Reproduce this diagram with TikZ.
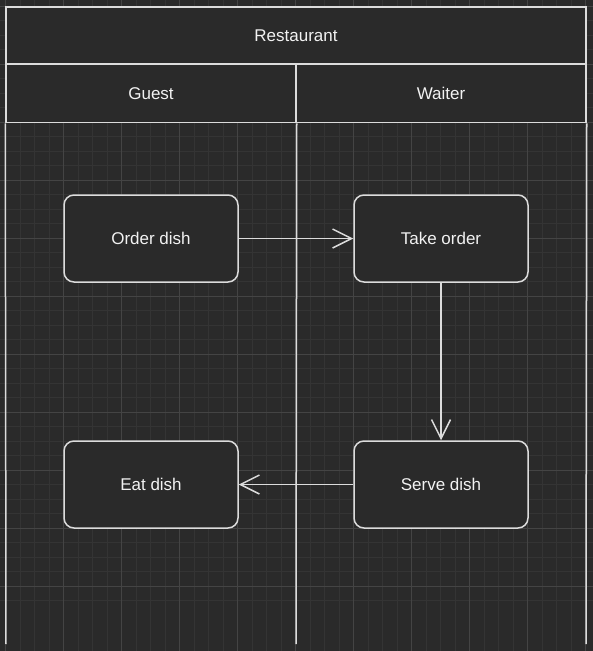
\documentclass[tikz,border=0pt]{standalone}
\usepackage{fontspec}
\setmainfont{Liberation Sans}
\usetikzlibrary{arrows.meta}
\definecolor{bgdark}{HTML}{2A2A2A}
\definecolor{gridminor}{HTML}{343434}
\definecolor{gridmajor}{HTML}{444444}
\definecolor{strokelight}{HTML}{DCDCDC}
\definecolor{textlight}{HTML}{F2F2F2}
\tikzset{
  lanehead/.style={draw=strokelight,fill=bgdark,line width=1.5pt,text=textlight,font=\fontsize{17}{20}\selectfont},
  stepbox/.style={draw=strokelight,fill=bgdark,line width=1.5pt,rounded corners=10pt,minimum width=174pt,minimum height=87pt,inner sep=0pt,text=textlight,font=\fontsize{17}{20}\selectfont},
  flow/.style={draw=strokelight,line width=1.5pt,-{Straight Barb[length=19pt,width=19pt,line width=1.5pt]}}
}
\begin{document}
\begin{tikzpicture}[x=1pt,y=-1pt]
	\fill[bgdark](0,0) rectangle (593,651);
	\useasboundingbox (0,0) rectangle (593,651);
	% grid
	\foreach \i in {0,...,41}{
		\draw[gridminor,line width=0.8pt](5.5+14.5*\i,0)--(5.5+14.5*\i,651);
		\draw[gridminor,line width=0.8pt](0,6+14.5*\i)--(593,6+14.5*\i);
	}
	\foreach \i in {0,...,10}{
		\draw[gridmajor,line width=0.8pt](5.5+58*\i,0)--(5.5+58*\i,651);
		\draw[gridmajor,line width=0.8pt](0,6+58*\i)--(593,6+58*\i);
	}
	% pool and lanes
	\node[lanehead,minimum width=580pt,minimum height=57pt,inner sep=0pt](pool) at (296,35.5){Restaurant};
	\node[lanehead,minimum width=290pt,minimum height=58pt,inner sep=0pt](guest) at (151,93.5){Guest};
	\node[lanehead,minimum width=290pt,minimum height=58pt,inner sep=0pt](waiter) at (441,93.5){Waiter};
	\draw[strokelight,line width=1.5pt](guest.south west)--(6,644);
	\draw[strokelight,line width=1.5pt](guest.south east)--(296,644);
	\draw[strokelight,line width=1.5pt](waiter.south east)--(586,644);
	% steps
	\node[stepbox](order) at (151,238.5){Order dish};
	\node[stepbox](take) at (441,238.5){Take order};
	\node[stepbox](eat) at (151,484.5){Eat dish};
	\node[stepbox](serve) at (441,484.5){Serve dish};
	\draw[flow](order)--(take);
	\draw[flow](take)--(serve);
	\draw[flow](serve)--(eat);
\end{tikzpicture}
\end{document}
